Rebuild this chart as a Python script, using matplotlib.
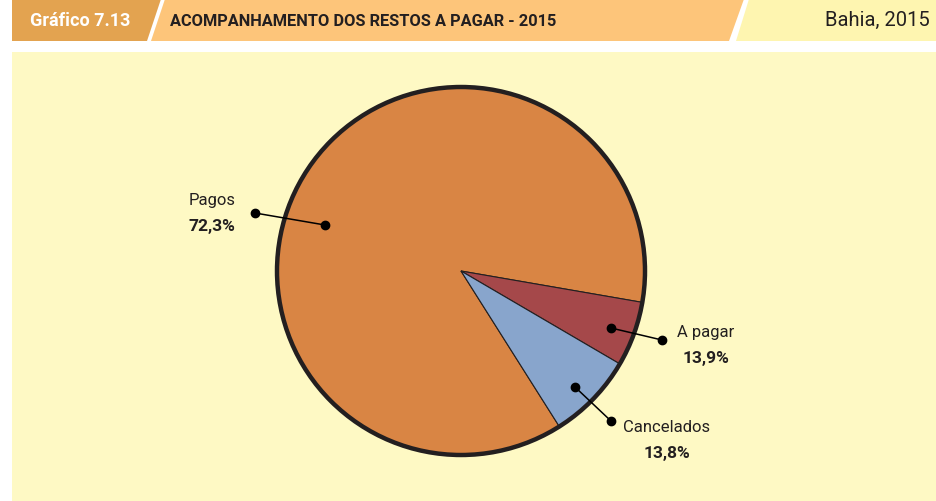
import matplotlib
matplotlib.use("Agg")
import matplotlib.pyplot as plt
from matplotlib.patches import Polygon, Rectangle, Circle

# data
categories = ["Pagos", "A pagar", "Cancelados"]
pct_labels = ["72,3%", "13,9%", "13,8%"]
# slice sizes as drawn in the original picture (share of the circle)
shares = [86.7, 5.7, 7.6]
colors = ["#D98544", "#A5484A", "#88A5CC"]

W, H = 936, 502
fig = plt.figure(figsize=(W / 100, H / 100), dpi=100)
ax = fig.add_axes([0, 0, 1, 1])

font = ["Roboto", "DejaVu Sans"]

# header band (pixel coords, y from top -> flip)
def py(y):
    return H - y

ax.add_patch(Polygon([(12, py(0)), (161, py(0)), (147, py(42)), (12, py(42))],
                     closed=True, color="#E3A350", lw=0))
ax.add_patch(Polygon([(165, py(0)), (744, py(0)), (729, py(42)), (151, py(42))],
                     closed=True, color="#FDC57A", lw=0))
ax.add_patch(Polygon([(749, py(0)), (W, py(0)), (W, py(42)), (736, py(42))],
                     closed=True, color="#FEF5B0", lw=0))
ax.add_patch(Rectangle((12, 0), W - 12, py(53), color="#FEF9C4", lw=0))

ax.text(80, py(21), "Gráfico 7.13", color="white", fontsize=13, fontweight="bold",
        ha="center", va="center", family=font)
ax.text(170, py(21), "ACOMPANHAMENTO DOS RESTOS A PAGAR - 2015", color="#231F20",
        fontsize=11.8, fontweight="bold", ha="left", va="center", family=font)
ax.text(930, py(20), "Bahia, 2015", color="#231F20", fontsize=14.5,
        ha="right", va="center", family=font)

# pie
cx, cy, r = 461, py(272), 184
wedges, _ = ax.pie(shares, colors=colors, startangle=-57.7, counterclock=False,
                   center=(cx, cy), radius=r, frame=True,
                   wedgeprops=dict(edgecolor="#231F20", linewidth=0.8))
ax.set_xlim(0, W)
ax.set_ylim(0, H)
ax.set_aspect("equal")
ax.axis("off")
ax.add_patch(Circle((cx, cy), r, fill=False, edgecolor="#231F20", lw=3.2, zorder=5))

# leader lines: inner dot, outer dot, text position
leaders = [((325, 226), (255, 214), (212, 200)),
           ((611, 329), (662, 341), (706, 333)),
           ((575, 388), (611, 422), (667, 428))]
for name, pct, (p1, p2, t) in zip(categories, pct_labels, leaders):
    ax.plot([p1[0], p2[0]], [py(p1[1]), py(p2[1])], color="black", lw=1.1, zorder=6)
    ax.plot([p1[0], p2[0]], [py(p1[1]), py(p2[1])], "o", color="black", ms=6, zorder=7)
    ax.text(t[0], py(t[1]), name, ha="center", va="center", fontsize=12,
            color="#231F20", family=font)
    ax.text(t[0], py(t[1] + 26), pct, ha="center", va="center", fontsize=12.5,
            fontweight="bold", color="#231F20", family=font)

fig.savefig("out.png", dpi=100)
